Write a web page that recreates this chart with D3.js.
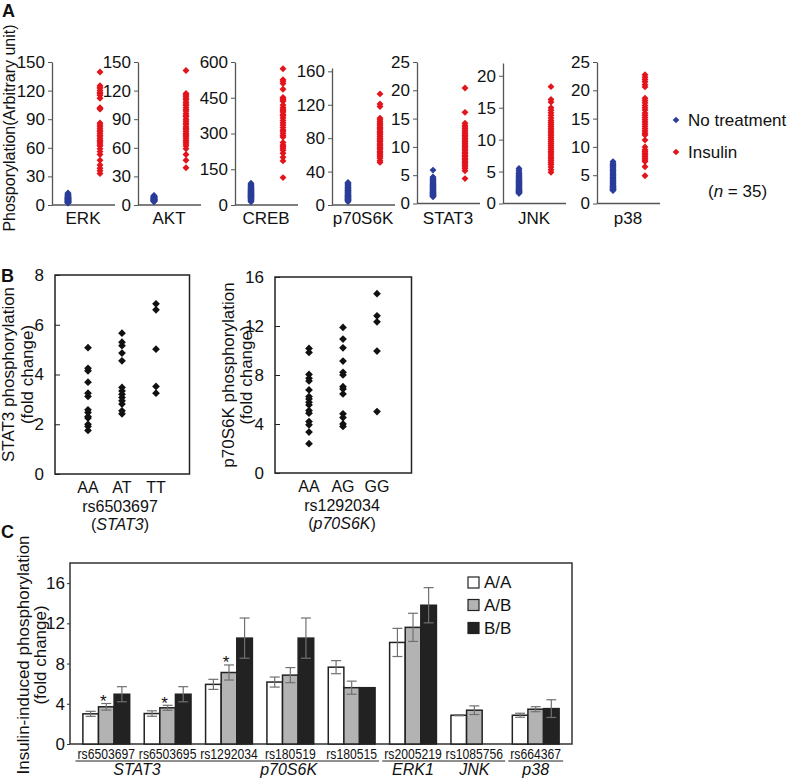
<!DOCTYPE html>
<html><head><meta charset="utf-8">
<script src="https://cdn.jsdelivr.net/npm/d3@7"></script>
<style>
body{margin:0;background:#fff}
text{font-family:"Liberation Sans",Arial,Helvetica,sans-serif;fill:#111}
</style></head>
<body><svg id="chart" width="787" height="781"></svg>
<script>
// ---------------- Panel A data ----------------
const kinases = ["ERK","AKT","CREB","p70S6K","STAT3","JNK","p38"];
const erkNone = [12.5,11.8,11,10.5,10,9.6,9.2,8.8,8.5,8.2,7.9,7.6,7.3,7,6.8,6.5,6.2,6,5.8,5.5,5.3,5,4.8,4.5,4.3,4,3.8,3.5,3.3,3,2.8,2.6,2.4,2.2,2];
const erkInsulin = [139.5,125,123,122.7,120,118,117,115,112,102,101,100.6,86,84,82,80,78,77,75,73,72.5,70,68,67,65,63,62,59,56,53,47,42,38.5,36,33];
const aktNone = [10,9.5,9.2,9,8.7,8.5,8.3,8.1,7.9,7.7,7.5,7.3,7.1,6.9,6.7,6.6,6.4,6.2,6.1,5.9,5.8,5.6,5.5,5.3,5.2,5,4.9,4.7,4.6,4.4,4.3,4.1,4,3.8,3.6];
const aktInsulin = [141,117,115.5,114,112,110.5,108,106,104.5,102,100,98.5,96,94,92.5,90,88,86,84.5,82,80.5,79,77,75,73.5,72,70,68,66,64,62,59,53,47,39];
const crebNone = [91,86,82,79,76,73,70,68,66,64,62,60,58,56,54,52,50,48,46,45,43,41,40,38,36,35,33,31,29,27,25,22,20,17,14];
const crebInsulin = [572,526,519,510,486,451,445,441,435,420,409,402,395,390,380,374,365,355,345,336,325,315,310,301,292,285,262,252,245,238,230,217,200,185,115];
const p70None = [27,26,25,24,23,22,21,20.5,20,19,18,17.5,17,16,15.5,15,14,13.5,13,12,11.5,11,10.5,10,9.5,9,8.5,8,7.5,7,6.5,6,5.5,5,4];
const p70Insulin = [133,121,118,104,102,100,98,97,95,93,92,90,88,87,85,84,82,80,79,77,76,74,72,71,69,68,66,64,63,61,60,58,56,53,51];
const stat3None = [5.9,4.7,4.5,4.3,4.2,4,3.9,3.8,3.6,3.5,3.4,3.3,3.2,3.1,3,2.9,2.8,2.7,2.6,2.5,2.4,2.3,2.2,2.1,2,1.9,1.85,1.8,1.7,1.6,1.5,1.45,1.4,1.3,1.2];
const stat3Insulin = [20.4,16.1,14.2,13.8,13.5,13.2,12.9,12.6,12.3,12,11.8,11.5,11.2,11,10.7,10.5,10.2,10,9.8,9.5,9.3,9,8.8,8.5,8.3,8,7.8,7.5,7.3,7,6.8,6.5,6.2,5.8,4.4];
const jnkNone = [5.5,5.2,4.9,4.7,4.5,4.4,4.2,4.1,4,3.8,3.7,3.6,3.5,3.4,3.3,3.2,3.1,3,2.9,2.8,2.7,2.6,2.5,2.4,2.3,2.2,2.1,2,1.95,1.9,1.85,1.8,1.7,1.65,1.6];
const jnkInsulin = [18.3,16.3,15.9,15,14.6,14.2,13.8,13.4,13,12.7,12.4,12.1,11.8,11.5,11.2,10.9,10.6,10.3,10,9.7,9.4,9.1,8.8,8.5,8.2,7.9,7.6,7.3,7,6.7,6.4,6.1,5.7,5.3,4.9];
const p38None = [7.4,7.1,6.9,6.7,6.5,6.3,6.1,5.9,5.8,5.6,5.4,5.2,5.1,4.9,4.7,4.6,4.4,4.2,4.1,3.9,3.8,3.6,3.5,3.3,3.2,3.1,3,2.9,2.8,2.7,2.6,2.5,2.45,2.4,2.3];
const p38Insulin = [22.75,22.3,21.9,21.5,21,20.6,18.6,18.2,17.8,17.3,16.9,16.5,16,15.6,15.2,14.8,14.4,14,13.6,13.2,12.8,12.4,12.1,11.2,10,9.5,9.2,8.9,8.6,8.3,8,7.7,7.4,6.5,4.9];
const yMaxA = [150,150,600,164,25,22,25];
const ticksA = [[0,30,60,90,120,150],[0,30,60,90,120,150],[0,150,300,450,600],[0,40,80,120,160],[0,5,10,15,20,25],[0,5,10,15,20],[0,5,10,15,20,25]];
const groupsA = ["No treatment","Insulin"];

// ---------------- Panel B data ----------------
const stat3Genotypes = ["AA","AT","TT"];
const stat3AA = [5.08,4.25,4.15,3.69,3.25,3.12,2.58,2.47,2.31,2.25,2.0,1.91,1.75];
const stat3AT = [5.66,5.3,5.16,4.86,4.55,3.48,3.34,3.21,3.08,2.94,2.81,2.54,2.42];
const stat3TT = [6.84,6.6,5.02,3.52,3.25];
const p70Genotypes = ["AA","AG","GG"];
const p70AA = [10.17,9.84,8.05,7.73,7.51,6.78,6.24,6.05,5.78,5.56,5.1,4.88,4.2,3.93,3.34,2.39];
const p70AG = [11.88,10.93,10.22,9.14,8.22,8.0,7.05,6.86,6.45,4.83,4.53,4.01,3.8];
const p70GG = [14.64,12.83,12.34,9.95,5.02];
const ticksB1 = [0,2,4,6,8];
const ticksB2 = [0,4,8,12,16];

// ---------------- Panel C data ----------------
const snps = ["rs6503697","rs6503695","rs1292034","rs180519","rs180515","rs2005219","rs1085756","rs664367"];
const genes = ["STAT3","STAT3","p70S6K","p70S6K","p70S6K","ERK1","JNK","p38"];
const genotypesC = ["A/A","A/B","B/B"];
const meanAA = [3.0,3.03,5.93,6.16,7.64,10.1,2.86,2.86];
const meanAB = [3.7,3.6,7.11,6.85,5.6,11.6,3.36,3.46];
const meanBB = [4.95,4.95,10.53,10.53,5.6,13.8,null,3.52];
const errAA = [0.25,0.27,0.5,0.5,0.65,1.4,0.05,0.2];
const errAB = [0.33,0.25,0.75,0.75,0.65,1.4,0.43,0.25];
const errBB = [0.75,0.75,2.0,2.0,0,1.75,0,0.88];
const starAB = [true,true,true,false,false,false,false,false];
const ticksC = [0,4,8,12,16];

// ---------------- drawing ----------------
const svg = d3.select("#chart");
svg.append("rect").attr("width",787).attr("height",781).attr("fill","#fff");
const blue = "#2b3d98", red = "#e2141c";
const FS = 17;

function panelLetter(t,x,y){
  svg.append("text").attr("x",x).attr("y",y).attr("font-size",18).attr("font-weight","bold").text(t);
}
function rotLabel(t,x,y,fs){
  return svg.append("text").attr("transform",`translate(${x},${y}) rotate(-90)`)
    .attr("text-anchor","middle").attr("font-size",fs||FS).text(t);
}

// ===== Panel A =====
panelLetter("A",2,17);
rotLabel("Phosporylation(Arbitrary unit)",15,128,16);
const noneA = [erkNone,aktNone,crebNone,p70None,stat3None,jnkNone,p38None];
const insA = [erkInsulin,aktInsulin,crebInsulin,p70Insulin,stat3Insulin,jnkInsulin,p38Insulin];
const axisXA = [52,138,235,332,417,503,597];
const topPxA = [62,62,62,68,62,63,62];
const zeroPxA = [205,205,205,205,203.5,203.5,203.5];
const diamondA = d3.symbol(d3.symbolSquare, 24);
kinases.forEach((k,i)=>{
  const g = svg.append("g").attr("transform",`translate(${axisXA[i]},0)`);
  const y = d3.scaleLinear().domain([0,yMaxA[i]]).range([zeroPxA[i], topPxA[i]]);
  const x = d3.scalePoint().domain(groupsA).range([16,48]);
  const ax = g.append("g").call(d3.axisLeft(y).tickValues(ticksA[i]).tickSizeInner(4).tickSizeOuter(0).tickPadding(3));
  ax.select(".domain").attr("stroke","#555").attr("stroke-width",1.3);
  ax.selectAll(".tick line").attr("stroke","#555");
  ax.selectAll(".tick text").attr("font-size",FS).attr("font-family",null).attr("fill","#111");
  g.append("line").attr("x1",0).attr("x2",63).attr("y1",zeroPxA[i]).attr("y2",zeroPxA[i]).attr("stroke","#555").attr("stroke-width",1.3);
  [[noneA[i],groupsA[0],blue],[insA[i],groupsA[1],red]].forEach(([vals,grp,col])=>{
    g.selectAll(null).data(vals).enter().append("path")
      .attr("d",diamondA).attr("fill",col)
      .attr("transform",d=>`translate(${x(grp)},${y(d)}) rotate(45)`);
  });
  g.append("text").attr("x",31).attr("y",224).attr("text-anchor","middle").attr("font-size",FS).text(k);
});
// legend A
[[groupsA[0],blue,120],[groupsA[1],red,152]].forEach(([t,c,yy])=>{
  svg.append("path").attr("d",d3.symbol(d3.symbolSquare,22)).attr("fill",c).attr("transform",`translate(676,${yy}) rotate(45)`);
  svg.append("text").attr("x",688).attr("y",yy+6).attr("font-size",FS).text(t);
});
const nt = svg.append("text").attr("x",708).attr("y",197).attr("font-size",FS);
nt.append("tspan").text("(");
nt.append("tspan").attr("font-style","italic").text("n");
nt.append("tspan").text(" = 35)");

// ===== Panel B =====
panelLetter("B",1,282);
function panelB(opts){
  const {x0,x1,y0,y1,yMax,ticks,cats,data,lab1,lab2,snp,gene,cx,px0,px1,labX1,labX2} = opts;
  const y = d3.scaleLinear().domain([0,yMax]).range([y1,y0]);
  const x = d3.scalePoint().domain(cats).range([px0,px1]);
  const g = svg.append("g");
  g.append("rect").attr("x",x0).attr("y",y0).attr("width",x1-x0).attr("height",y1-y0)
    .attr("fill","none").attr("stroke","#222").attr("stroke-width",1.5);
  const ax = g.append("g").attr("transform",`translate(${x0},0)`)
    .call(d3.axisLeft(y).tickValues(ticks).tickSizeInner(-5).tickSizeOuter(0).tickPadding(11));
  ax.select(".domain").remove();
  ax.selectAll(".tick line").attr("stroke","#222");
  ax.selectAll(".tick text").attr("font-size",FS).attr("font-family",null).attr("fill","#111");
  const sym = d3.symbol(d3.symbolSquare, 30);
  cats.forEach((c,j)=>{
    g.selectAll(null).data(data[j]).enter().append("path").attr("d",sym).attr("fill","#111")
      .attr("transform",d=>`translate(${x(c)},${y(d)}) rotate(45)`);
    g.append("text").attr("x",x(c)).attr("y",y1+19).attr("text-anchor","middle").attr("font-size",16).text(c);
  });
  g.append("text").attr("x",cx).attr("y",y1+37.5).attr("text-anchor","middle").attr("font-size",16).text(snp);
  const t = g.append("text").attr("x",cx).attr("y",y1+56).attr("text-anchor","middle").attr("font-size",16);
  t.append("tspan").text("(");
  t.append("tspan").attr("font-style","italic").text(gene);
  t.append("tspan").text(")");
  rotLabel(lab1,labX1,(y0+y1)/2,FS);
  rotLabel(lab2,labX2,(y0+y1)/2,FS);
}
panelB({x0:55,x1:189.5,y0:275,y1:474,yMax:8,ticks:ticksB1,cats:stat3Genotypes,data:[stat3AA,stat3AT,stat3TT],
  lab1:"STAT3 phosphorylation",lab2:"(fold change)",snp:"rs6503697",gene:"STAT3",cx:120,px0:88,px1:156,labX1:14,labX2:33});
panelB({x0:275,x1:411.5,y0:277,y1:473,yMax:16,ticks:ticksB2,cats:p70Genotypes,data:[p70AA,p70AG,p70GG],
  lab1:"p70S6K phosphorylation",lab2:"(fold change)",snp:"rs1292034",gene:"p70S6K",cx:342,px0:309,px1:377,labX1:234,labX2:252});

// ===== Panel C =====
panelLetter("C",1,538);
const cX0=70,cX1=572,cY0=563,cY1=744;
const yC = d3.scaleLinear().domain([0,18]).range([cY1,cY0]);
const xC = d3.scaleBand().domain(snps).range([cX0,cX1]).paddingInner(0.237).paddingOuter(0.21);
const xSub = d3.scaleBand().domain(genotypesC).range([0,xC.bandwidth()]);
const fills = ["#ffffff","#b3b3b3","#222222"];
const means = [meanAA,meanAB,meanBB], errs = [errAA,errAB,errBB];
const gC = svg.append("g");
gC.append("rect").attr("x",cX0).attr("y",cY0).attr("width",cX1-cX0).attr("height",cY1-cY0)
  .attr("fill","none").attr("stroke","#333").attr("stroke-width",1.5);
const axC = gC.append("g").attr("transform",`translate(${cX0},0)`)
  .call(d3.axisLeft(yC).tickValues(ticksC).tickSizeInner(3).tickSizeOuter(0).tickPadding(2));
axC.select(".domain").remove();
axC.selectAll(".tick line").attr("stroke","#333");
axC.selectAll(".tick text").attr("font-size",FS).attr("font-family",null).attr("fill","#111");
snps.forEach((s,i)=>{
  genotypesC.forEach((gt,j)=>{
    const v = means[j][i];
    if(v==null) return;
    const bx = xC(s)+xSub(gt), bw = xSub.bandwidth();
    gC.append("rect").attr("x",bx).attr("y",yC(v)).attr("width",bw).attr("height",yC(0)-yC(v))
      .attr("fill",fills[j]).attr("stroke","#222").attr("stroke-width",1.5);
    const e = errs[j][i];
    if(e>0){
      const cx = bx+bw/2;
      const eg = gC.append("g").attr("stroke","#707070").attr("stroke-width",1.2);
      eg.append("line").attr("x1",cx).attr("x2",cx).attr("y1",yC(v-e)).attr("y2",yC(v+e));
      eg.append("line").attr("x1",cx-5).attr("x2",cx+5).attr("y1",yC(v-e)).attr("y2",yC(v-e));
      eg.append("line").attr("x1",cx-5).attr("x2",cx+5).attr("y1",yC(v+e)).attr("y2",yC(v+e));
    }
    if(j===1 && starAB[i]){
      gC.append("text").attr("x",bx+bw/2-3).attr("y",yC(v+e)+3.5).attr("text-anchor","middle").attr("font-size",17).text("*");
    }
  });
});
// x labels
const labExt = {};
snps.forEach(s=>{
  const cx = xC(s)+xC.bandwidth()/2;
  const t = gC.append("text").attr("x",cx).attr("y",758.5).attr("text-anchor","middle").attr("font-size",14).text(s);
  const w = t.node().getComputedTextLength()*0.87;
  t.attr("textLength",w).attr("lengthAdjust","spacingAndGlyphs");
  labExt[s] = [cx-w/2, cx+w/2];
});
const geneGroups = [];
genes.forEach((g,i)=>{
  const last = geneGroups[geneGroups.length-1];
  if(last && last.gene===g) last.snps.push(snps[i]); else geneGroups.push({gene:g,snps:[snps[i]]});
});
geneGroups.forEach(gg=>{
  const a = labExt[gg.snps[0]][0]-2, b = labExt[gg.snps[gg.snps.length-1]][1]+2;
  gC.append("line").attr("x1",a).attr("x2",b).attr("y1",761).attr("y2",761).attr("stroke","#222").attr("stroke-width",1.2);
  gC.append("text").attr("x",(a+b)/2).attr("y",775).attr("text-anchor","middle").attr("font-size",16)
    .attr("font-style","italic").text(gg.gene);
});
rotLabel("Insulin-induced phosphorylation",29,655,FS);
rotLabel("(fold change)",46,655,FS);
// legend C
genotypesC.forEach((gt,j)=>{
  const yy = [577,599.5,622.5][j];
  gC.append("rect").attr("x",468).attr("y",yy).attr("width",11).attr("height",11)
    .attr("fill",fills[j]).attr("stroke","#222").attr("stroke-width",1.2);
  gC.append("text").attr("x",484).attr("y",yy+11).attr("font-size",FS).text(gt);
});
</script></body></html>
